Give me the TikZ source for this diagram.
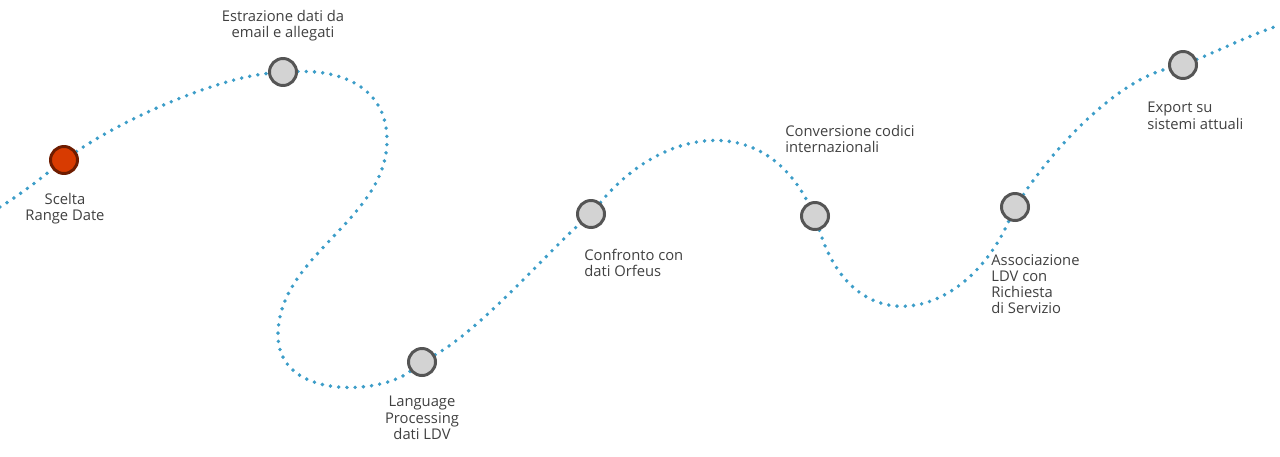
\documentclass[tikz,border=0pt]{standalone}
\usepackage{fontspec}
\setmainfont{Open Sans}
\usepackage{xcolor}
\definecolor{cDots}{HTML}{3C9DC8}
\definecolor{cRing}{HTML}{555555}
\definecolor{cFill}{HTML}{D3D3D3}
\definecolor{cStart}{HTML}{D83B01}
\definecolor{cStartRing}{HTML}{6E1C00}
\definecolor{cText}{HTML}{404040}
\usepackage{tikz}
\usetikzlibrary{positioning,backgrounds}
\tikzset{
  node-step/.style={circle,draw=cRing,line width=1.7pt,fill=cFill,
    minimum size=0.54cm,inner sep=0pt},
  node-first/.style={node-step,draw=cStartRing,fill=cStart},
  node-label/.style={font=\fontsize{8.4}{9.2}\selectfont,text=cText,
    inner sep=0pt},
  path-dots/.style={draw=cDots,line width=2.2pt,line cap=round,
    dash pattern=on 0pt off 4.7pt},
}

\begin{document}
\begin{tikzpicture}[x=0.02cm,y=-0.02cm]
  \useasboundingbox (0,0) rectangle (1280,456);
  % tappe
  \node[node-first] (range)  at (64,160)  {};
  \node[node-step]  (estr)   at (283,72)  {};
  \node[node-step]  (lang)   at (422,362) {};
  \node[node-step]  (orf)    at (591,214) {};
  \node[node-step]  (conv)   at (815,216) {};
  \node[node-step]  (assoc)  at (1015,207) {};
  \node[node-step]  (export) at (1183,65) {};
  \coordinate (start)  at (0,207);
  \coordinate (end)    at (1280,25);
  \coordinate (turn-r) at (387,140);
  \coordinate (turn-l) at (278,335);
  % etichette
  \node[node-label,anchor=north,align=center] (range-t) at (65,193)
    {Scelta\\Range Date};
  \node[node-label,anchor=north,align=center] (estr-t) at (283,10)
    {Estrazione dati da\\email e allegati};
  \node[node-label,anchor=north,align=center] (lang-t) at (422,396)
    {Language\\Processing\\dati LDV};
  \node[node-label,anchor=north west,align=left] (orf-t) at (584,249)
    {Confronto con\\dati Orfeus};
  \node[node-label,anchor=north west,align=left] (conv-t) at (785,125)
    {Conversione codici\\internazionali};
  \node[node-label,anchor=north west,align=left] (assoc-t) at (991,254)
    {Associazione\\LDV con\\Richiesta\\di Servizio};
  \node[node-label,anchor=north west,align=left] (export-t) at (1147,102)
    {Export su\\sistemi attuali};
  % percorso
  \begin{scope}[on background layer]
    \draw[path-dots] (start) .. controls (20,195) and (45,175) .. (range)
      .. controls (130,115) and (220,78) .. (estr)
      .. controls (345,70) and (387,90) .. (turn-r)
      .. controls (387,220) and (278,255) .. (turn-l)
      .. controls (278,400) and (380,395) .. (lang)
      .. controls (480,330) and (550,250) .. (orf)
      .. controls (660,130) and (760,110) .. (conv)
      .. controls (855,345) and (965,320) .. (assoc)
      .. controls (1060,140) and (1120,80) .. (export)
      .. controls (1220,50) and (1250,35) .. (end);
  \end{scope}
\end{tikzpicture}
\end{document}
